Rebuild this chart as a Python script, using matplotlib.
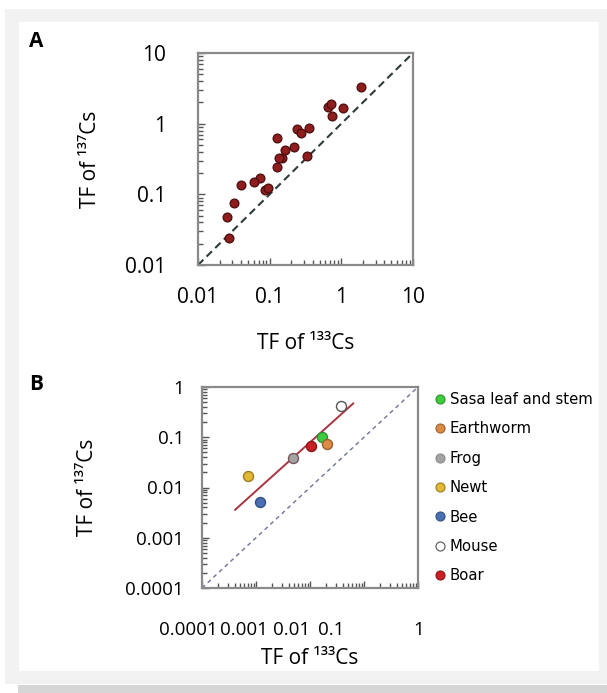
"""Recreate the two-panel TF 137Cs vs 133Cs scatter figure."""

from __future__ import annotations

import matplotlib

matplotlib.use("Agg")
import matplotlib.pyplot as plt  # noqa: E402
import numpy as np  # noqa: E402
from matplotlib.lines import Line2D  # noqa: E402
from matplotlib.patches import Rectangle  # noqa: E402
from matplotlib.ticker import LogLocator, NullFormatter  # noqa: E402
from matplotlib.transforms import ScaledTranslation  # noqa: E402


W_PX, H_PX = 607, 693
DPI = 100

# panel A: all samples
tf133_a = [1.89, 0.66, 0.72, 1.07, 0.75, 0.24, 0.27, 0.35, 0.125, 0.22, 0.163, 0.147,
           0.135, 0.336, 0.125, 0.074, 0.061, 0.086, 0.094, 0.040, 0.032, 0.025, 0.027]
tf137_a = [3.25, 1.71, 1.90, 1.66, 1.28, 0.83, 0.74, 0.86, 0.62, 0.46, 0.43, 0.325,
           0.325, 0.35, 0.245, 0.17, 0.148, 0.116, 0.121, 0.136, 0.075, 0.048, 0.024]

# panel B: per-species values
species = ["Sasa leaf and stem", "Earthworm", "Frog", "Newt", "Bee", "Mouse", "Boar"]
tf133_b = [0.0165, 0.021, 0.0048, 0.00072, 0.00119, 0.037, 0.0104]
tf137_b = [0.10, 0.073, 0.038, 0.017, 0.0052, 0.42, 0.067]
fit_x = [0.00041, 0.063]
fit_y = [0.0036, 0.47]

ticks_a = [0.01, 0.1, 1, 10]
ticklabels_a = ["0.01", "0.1", "1", "10"]
ticks_b = [0.0001, 0.001, 0.01, 0.1, 1]
ticklabels_b = ["0.0001", "0.001", "0.01", "0.1", "1"]

SPECIES_FACE = ["#3dcc3d", "#dc8b45", "#a3a3a3", "#e2b835", "#4a70b3", "#ffffff", "#cc1f24"]
SPECIES_EDGE = ["#2f8f2f", "#9a6030", "#7b5560", "#9a7d20", "#34507f", "#555555", "#8a1518"]

FONT = ["Open Sans", "DejaVu Sans"]
GRID_GRAY = "#8a8a8a"


def _px_box(left: float, top: float, right: float, bottom: float) -> list[float]:
    return [left / W_PX, 1 - bottom / H_PX, (right - left) / W_PX, (bottom - top) / H_PX]


def _add_backdrop(fig) -> None:
    layers = [
        (5, 9, 607, 684, "#f2f2f2"),
        (19, 22, 599, 671, "#ffffff"),
        (18, 685, 607, 693, "#d6d6d6"),
    ]
    for left, top, right, bottom, color in layers:
        x, y, w, h = _px_box(left, top, right, bottom)
        fig.patches.append(Rectangle((x, y), w, h, transform=fig.transFigure,
                                     facecolor=color, edgecolor="none", zorder=-10))


def _style_log_axes(ax, ticks, labels, fontsize, xpad, ypad) -> None:
    ax.set_xscale("log")
    ax.set_yscale("log")
    ax.set_xlim(ticks[0], ticks[-1])
    ax.set_ylim(ticks[0], ticks[-1])
    for axis in (ax.xaxis, ax.yaxis):
        axis.set_minor_locator(LogLocator(base=10, subs=np.arange(2, 10)))
        axis.set_minor_formatter(NullFormatter())
    ax.set_xticks(ticks, labels, fontsize=fontsize, family=FONT)
    ax.set_yticks(ticks, labels, fontsize=fontsize, family=FONT)
    ax.tick_params(which="both", direction="in", color="#555555", width=1.0)
    ax.tick_params(which="major", length=5)
    ax.tick_params(which="minor", length=3.5)
    ax.tick_params(axis="x", which="major", pad=xpad)
    ax.tick_params(axis="y", which="major", pad=ypad)
    for spine in ax.spines.values():
        spine.set_color(GRID_GRAY)
        spine.set_linewidth(1.6)


def _draw_panel_a(fig) -> None:
    ax = fig.add_axes(_px_box(198, 53, 413, 265))
    _style_log_axes(ax, ticks_a, ticklabels_a, fontsize=15, xpad=16, ypad=23)
    ax.plot(ticks_a, ticks_a, color="#2e3b3b", linewidth=1.5, dashes=(3.6, 2.2), zorder=2)
    ax.scatter(tf133_a, tf137_a, s=40, facecolor="#8f1d1d", edgecolor="#4a0c0c",
               linewidth=0.9, zorder=3)
    ax.set_xlabel("TF of ¹³³Cs", fontsize=15, family=FONT, labelpad=18)
    ax.set_ylabel("TF of ¹³⁷Cs", fontsize=15, family=FONT, labelpad=17)


def _draw_panel_b(fig) -> None:
    ax = fig.add_axes(_px_box(202, 387, 418, 588))
    _style_log_axes(ax, ticks_b, ticklabels_b, fontsize=13.5, xpad=24, ypad=13)
    ax.plot(ticks_b, ticks_b, color="#6f7399", linewidth=1.0, dashes=(3.0, 2.6), zorder=2)
    ax.plot(fit_x, fit_y, color="#a8343f", linewidth=1.4, zorder=3)
    for name, x, y, face, edge in zip(species, tf133_b, tf137_b, SPECIES_FACE, SPECIES_EDGE):
        ax.scatter([x], [y], s=52, facecolor=face, edgecolor=edge, linewidth=1.0,
                   zorder=4, label=name)
    ax.set_xlabel("TF of ¹³³Cs", fontsize=15, family=FONT, labelpad=6)
    ax.set_ylabel("TF of ¹³⁷Cs", fontsize=15, family=FONT, labelpad=20)

    # the x tick labels sit crowded to the left in the original
    shifts_px = [-14, -12, -18, -33, 1]
    for tick, dx in zip(ax.xaxis.get_major_ticks(), shifts_px):
        tick.label1.set_transform(tick.label1.get_transform()
                                  + ScaledTranslation(dx / DPI, 0, fig.dpi_scale_trans))

    handles = [
        Line2D([], [], linestyle="none", marker="o", markersize=6.5,
               markerfacecolor=face, markeredgecolor=edge if name != "Frog" else "#8a8a8a",
               markeredgewidth=0.8)
        for name, face, edge in zip(species, SPECIES_FACE, SPECIES_EDGE)
    ]
    fig.legend(handles, species, loc="upper left",
               bbox_to_anchor=(432.5 / W_PX, 1 - 392 / H_PX),
               bbox_transform=fig.transFigure, frameon=False, borderpad=0,
               borderaxespad=0, handlelength=1.0, handletextpad=0.15,
               labelspacing=0.97, prop={"family": "DejaVu Sans", "size": 10.7})


def main() -> None:
    fig = plt.figure(figsize=(W_PX / DPI, H_PX / DPI), dpi=DPI, facecolor="white")
    _add_backdrop(fig)
    _draw_panel_a(fig)
    _draw_panel_b(fig)
    fig.text(29 / W_PX, 1 - 47 / H_PX, "A", fontsize=15, fontweight="bold",
             family=FONT, va="baseline", ha="left")
    fig.text(29 / W_PX, 1 - 390 / H_PX, "B", fontsize=15, fontweight="bold",
             family=FONT, va="baseline", ha="left")
    fig.savefig("out.png", dpi=DPI)
    plt.close(fig)


if __name__ == "__main__":
    main()
